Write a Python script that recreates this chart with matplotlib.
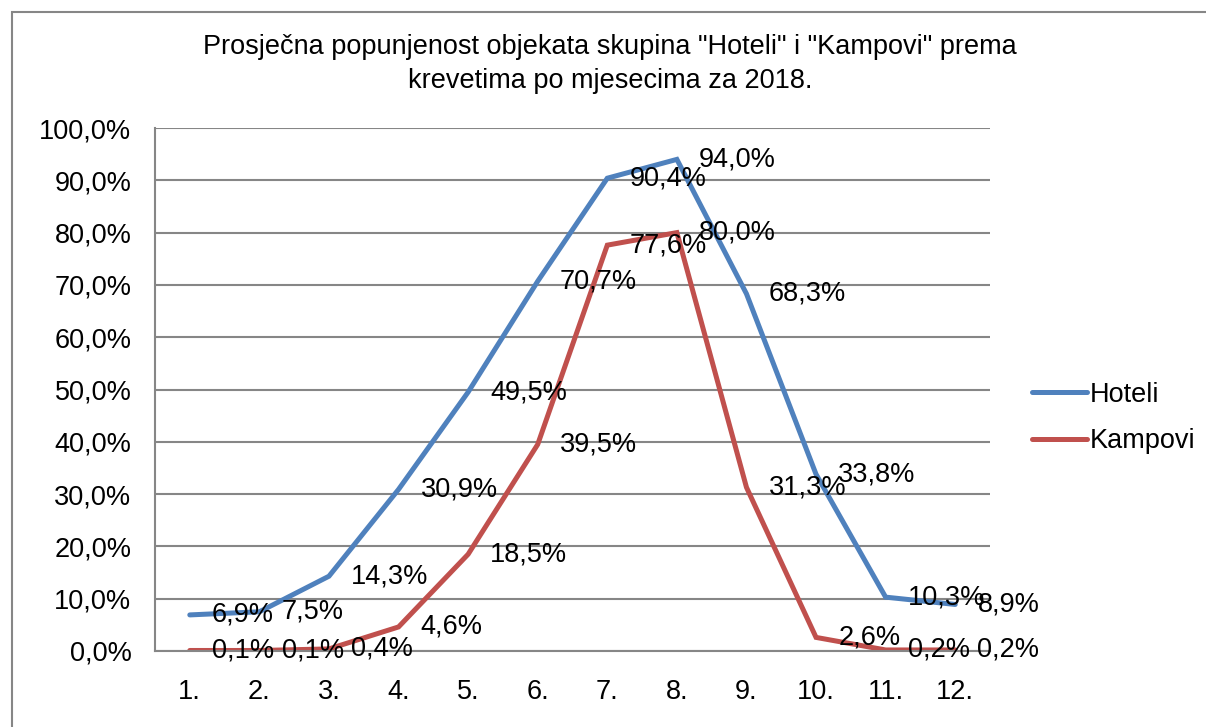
import numpy as np
import matplotlib.pyplot as plt
from matplotlib.patches import Rectangle

plt.rcParams['font.family'] = ['Liberation Sans', 'DejaVu Sans']

months = ["1.", "2.", "3.", "4.", "5.", "6.", "7.", "8.", "9.", "10.", "11.", "12."]
hoteli = [6.9, 7.5, 14.3, 30.9, 49.5, 70.7, 90.4, 94.0, 68.3, 33.8, 10.3, 8.9]
kampovi = [0.1, 0.1, 0.4, 4.6, 18.5, 39.5, 77.6, 80.0, 31.3, 2.6, 0.2, 0.2]
series = [("Hoteli", hoteli, "#4F81BD"), ("Kampovi", kampovi, "#C0504D")]

fig = plt.figure(figsize=(12.06, 7.27), dpi=100)
ax = fig.add_axes([155/1206, 1-651/727, 835/1206, (651-128)/727])

# outer chart frame
fig.patches.append(Rectangle((12/1206, -0.05), 1.2, 1-12/727+0.05, transform=fig.transFigure,
                             fill=False, ec="#868686", lw=1.5))

x = np.arange(len(months))
fs = 19.5
for name, vals, col in series:
    ax.plot(x, vals, color=col, lw=3.6, label=name, solid_capstyle="round", solid_joinstyle="miter")
    for xi, v in zip(x, vals):
        ax.annotate(f"{v:.1f}%".replace(".", ","), (xi, v), xytext=(16, 0),
                    textcoords="offset points", ha="left", va="center", fontsize=fs)

ax.set_xlim(-0.5, len(months) - 0.5)
ax.set_ylim(0, 100)
ax.set_yticks(np.arange(0, 101, 10))
ax.set_yticklabels([f"{t:.1f}%".replace(".", ",") for t in np.arange(0, 101, 10)], fontsize=fs)
ax.set_xticks(x)
ax.set_xticklabels(months, fontsize=fs)
ax.tick_params(length=0, pad=20)
ax.tick_params(axis="y", pad=17)
ax.grid(axis="y", color="#868686", lw=1.5)
ax.set_axisbelow(True)
for s in ["top", "right"]:
    ax.spines[s].set_visible(False)
for s in ["left", "bottom"]:
    ax.spines[s].set_color("#868686")
    ax.spines[s].set_linewidth(1.5)

fig.text(610/1206, 1-64/727, 'Prosječna popunjenost objekata skupina "Hoteli" i "Kampovi" prema\nkrevetima po mjesecima za 2018.',
         ha="center", va="center", fontsize=fs, linespacing=1.35)

leg = fig.legend(loc="center left", bbox_to_anchor=(1008/1206, 1-418/727), frameon=False,
                 fontsize=fs, handlelength=2.0, handletextpad=0.1, labelspacing=0.75)

fig.savefig("out.png", dpi=100)
